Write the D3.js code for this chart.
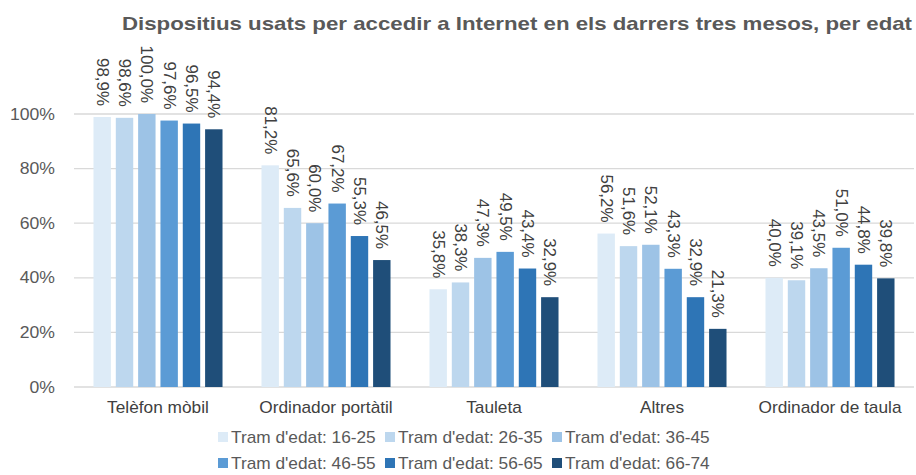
<!DOCTYPE html>
<html>
<head>
<meta charset="utf-8">
<script src="https://cdn.jsdelivr.net/npm/d3@7"></script>
<style>
  body { margin: 0; background: #fff; }
  text { font-family: "Liberation Sans", Arial, sans-serif; }
</style>
</head>
<body>
<div id="chart"></div>
<script>
// chart data
var categories = ["Telèfon mòbil", "Ordinador portàtil", "Tauleta", "Altres", "Ordinador de taula"];
var seriesNames = ["Tram d'edat: 16-25", "Tram d'edat: 26-35", "Tram d'edat: 36-45",
                   "Tram d'edat: 46-55", "Tram d'edat: 56-65", "Tram d'edat: 66-74"];
var seriesColors = ["#DDEBF7", "#BDD7EE", "#9DC3E6", "#5B9BD5", "#2E75B6", "#1F4E79"];
var v1625 = [98.9, 81.2, 35.8, 56.2, 40.0];
var v2635 = [98.6, 65.6, 38.3, 51.6, 39.1];
var v3645 = [100.0, 60.0, 47.3, 52.1, 43.5];
var v4655 = [97.6, 67.2, 49.5, 43.3, 51.0];
var v5665 = [96.5, 55.3, 43.4, 32.9, 44.8];
var v6674 = [94.4, 46.5, 32.9, 21.3, 39.8];
var yTicks = [0, 20, 40, 60, 80, 100];

var seriesValues = [v1625, v2635, v3645, v4655, v5665, v6674];

var svgWidth = 916, svgHeight = 475;
var margin = {top: 114, right: 2, bottom: 88, left: 74};
var width = svgWidth - margin.left - margin.right;
var height = svgHeight - margin.top - margin.bottom;

// the reference text is a bit wider than Arial, stretch it horizontally
var stretch = 1.08;

var svg = d3.select("#chart").append("svg")
  .attr("width", svgWidth)
  .attr("height", svgHeight);

svg.append("text")
  .attr("x", 122)
  .attr("y", 30)
  .attr("textLength", 790)
  .attr("lengthAdjust", "spacingAndGlyphs")
  .style("font-size", "19px")
  .style("font-weight", "bold")
  .style("fill", "#595959")
  .text("Dispositius usats per accedir a Internet en els darrers tres mesos, per edat");

var chartGroup = svg.append("g")
  .attr("transform", `translate(${margin.left}, ${margin.top})`);

var x0 = d3.scaleBand().domain(categories).range([0, width]).paddingInner(0.232).paddingOuter(0.116);
var x1 = d3.scaleBand().domain(seriesNames).range([0, x0.bandwidth()]).paddingInner(0.22);
var y = d3.scaleLinear().domain([0, 100]).range([height, 0]);

// gridlines
chartGroup.selectAll(".grid")
  .data(yTicks)
  .enter()
  .append("line")
  .attr("x1", 0)
  .attr("x2", width)
  .attr("y1", d => y(d))
  .attr("y2", d => y(d))
  .attr("stroke", "#D9D9D9")
  .attr("stroke-width", 1.3);

// y labels
chartGroup.selectAll(".ylab")
  .data(yTicks)
  .enter()
  .append("text")
  .attr("transform", d => `translate(-19, ${y(d)}) scale(1.1, 1)`)
  .attr("dy", "0.35em")
  .attr("text-anchor", "end")
  .style("font-size", "16px")
  .style("fill", "#595959")
  .text(d => d + "%");

var rows = [];
categories.forEach(function(c, i) {
  seriesNames.forEach(function(s, j) {
    rows.push({cat: c, series: s, color: seriesColors[j], value: seriesValues[j][i]});
  });
});

var fmt = d => d.toFixed(1).replace(".", ",") + "%";

var groups = chartGroup.selectAll(".bar")
  .data(rows)
  .enter();

groups.append("rect")
  .attr("x", d => x0(d.cat) + x1(d.series))
  .attr("y", d => y(d.value))
  .attr("width", x1.bandwidth())
  .attr("height", d => height - y(d.value))
  .attr("fill", d => d.color);

groups.append("text")
  .attr("transform", d => `translate(${x0(d.cat) + x1(d.series) + x1.bandwidth() / 2}, ${y(d.value) - 11}) rotate(90) scale(1.06, 1)`)
  .attr("dy", "0.35em")
  .attr("text-anchor", "end")
  .style("font-size", "16px")
  .style("fill", "#404040")
  .text(d => fmt(d.value));

// category labels
chartGroup.selectAll(".xlab")
  .data(categories)
  .enter()
  .append("text")
  .attr("transform", d => `translate(${x0(d) + x0.bandwidth() / 2}, ${height + 26}) scale(${stretch}, 1)`)
  .attr("text-anchor", "middle")
  .style("font-size", "16px")
  .style("fill", "#404040")
  .text(d => d);

// legend
var legendX = [218, 385, 552];
var legendY = [437, 463];
var legend = svg.selectAll(".legend")
  .data(seriesNames)
  .enter()
  .append("g")
  .attr("transform", (d, i) => `translate(${legendX[i % 3]}, ${legendY[Math.floor(i / 3)]})`);

legend.append("rect")
  .attr("x", 0)
  .attr("y", -5)
  .attr("width", 10)
  .attr("height", 10)
  .attr("fill", (d, i) => seriesColors[i]);

legend.append("text")
  .attr("transform", `translate(13, 0) scale(${stretch}, 1)`)
  .attr("dy", "0.35em")
  .style("font-size", "16px")
  .style("fill", "#595959")
  .text(d => d);
</script>
</body>
</html>
